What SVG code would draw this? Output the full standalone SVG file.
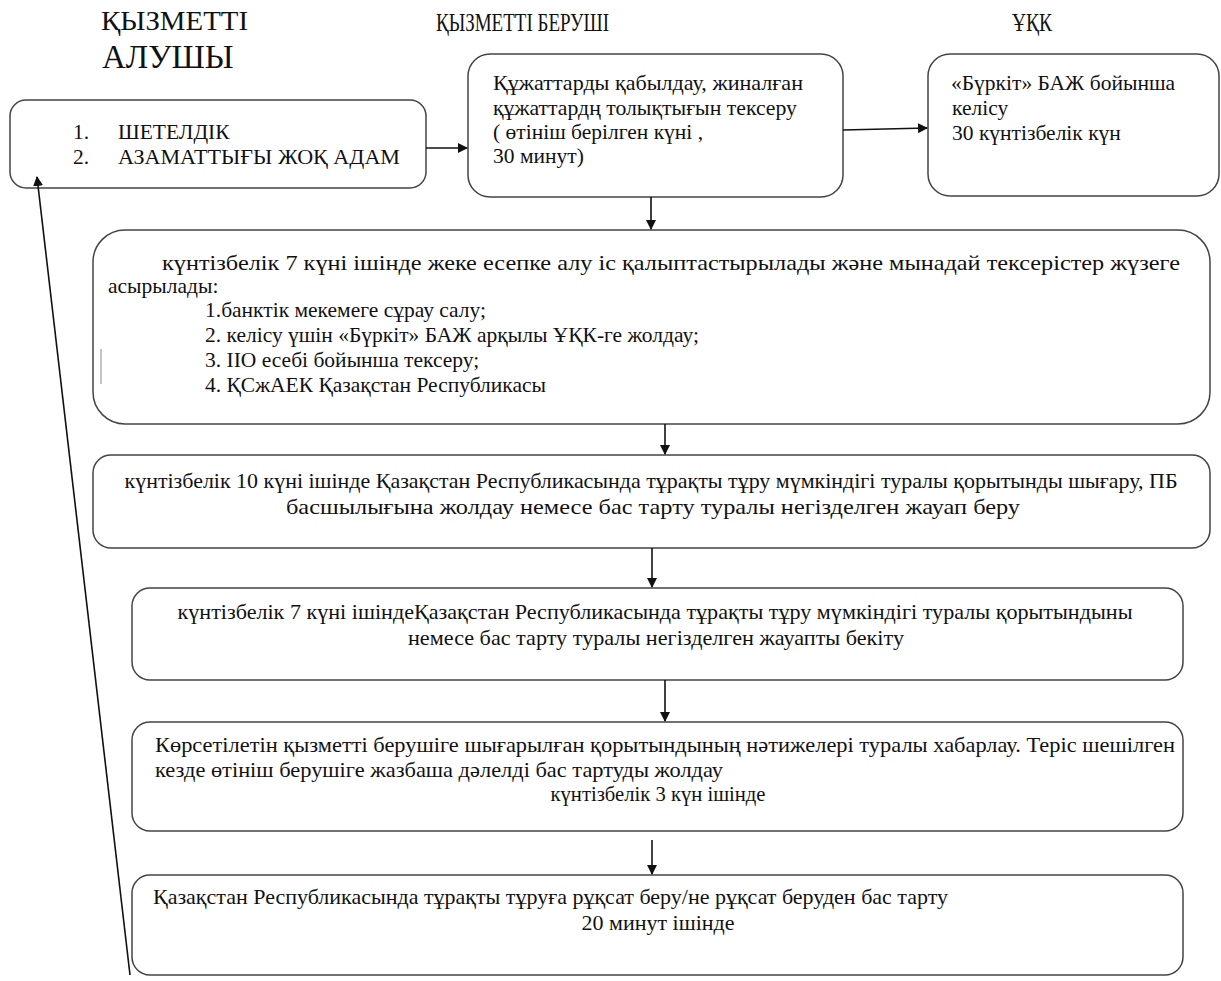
<svg xmlns="http://www.w3.org/2000/svg" width="1221" height="981" viewBox="0 0 1221 981">
<style>
.box{fill:#fff;stroke:#444;stroke-width:1.5}
.t{font-family:"Liberation Serif","Times New Roman",serif;font-size:21.5px;fill:#111}
.h{font-family:"Liberation Serif","Times New Roman",serif;fill:#111}
.c{text-anchor:middle}
.ln{stroke:#111;stroke-width:1.6;fill:none}
</style>
<defs>
<marker id="ah" viewBox="0 0 10 10" refX="9" refY="5" markerWidth="10" markerHeight="10" markerUnits="userSpaceOnUse" orient="auto">
<path d="M0,0 L10,5 L0,10 z" fill="#111"/>
</marker>
</defs>
<rect width="1221" height="981" fill="#fff"/>
<g id="headers">
<text class="h" x="101" y="30" font-size="28" textLength="147" lengthAdjust="spacingAndGlyphs">ҚЫЗМЕТТІ</text>
<text class="h" x="102" y="68" font-size="33">АЛУШЫ</text>
<text class="h" x="436" y="31" font-size="26" textLength="173" lengthAdjust="spacingAndGlyphs">ҚЫЗМЕТТІ БЕРУШІ</text>
<text class="h" x="1012" y="31" font-size="26" textLength="40" lengthAdjust="spacingAndGlyphs">ҰҚК</text>
</g>
<g id="n1">
<rect class="box" x="10" y="100" width="416" height="88" rx="16"/>
<text class="t" x="73" y="139">1.</text><text class="t" x="118" y="139">ШЕТЕЛДІК</text>
<text class="t" x="73" y="164">2.</text><text class="t" x="118" y="164" textLength="282" lengthAdjust="spacingAndGlyphs">АЗАМАТТЫҒЫ ЖОҚ АДАМ</text>
</g>
<g id="n2">
<rect class="box" x="468" y="54" width="375" height="143" rx="22"/>
<text class="t" x="493" y="90" textLength="310" lengthAdjust="spacingAndGlyphs">Құжаттарды қабылдау, жиналған</text>
<text class="t" x="493" y="115" textLength="304" lengthAdjust="spacingAndGlyphs">құжаттардң толықтығын тексеру</text>
<text class="t" x="493" y="139">( өтініш берілген күні ,</text>
<text class="t" x="493" y="163">30 минут)</text>
</g>
<g id="n3">
<rect class="box" x="928" y="54" width="291" height="142" rx="22"/>
<text class="t" x="951" y="90"> «Бүркіт» БАЖ бойынша</text>
<text class="t" x="952" y="115">келісу</text>
<text class="t" x="952" y="140">30 күнтізбелік күн</text>
</g>
<g id="n4">
<rect class="box" x="93" y="230" width="1117" height="194" rx="32"/>
<line x1="101" y1="349" x2="101" y2="384" stroke="#888" stroke-width="1"/>
<text class="t" x="162" y="270" textLength="1018" lengthAdjust="spacingAndGlyphs">күнтізбелік 7 күні ішінде жеке есепке алу іс қалыптастырылады және мынадай тексерістер жүзеге</text>
<text class="t" x="108" y="293">асырылады:</text>
<text class="t" x="205" y="317">1.банктік мекемеге сұрау салу;</text>
<text class="t" x="205" y="342">2. келісу үшін «Бүркіт» БАЖ арқылы ҰҚК-ге жолдау;</text>
<text class="t" x="205" y="367">3. ІІО есебі бойынша тексеру;</text>
<text class="t" x="205" y="392">4. ҚСжАЕК Қазақстан Республикасы</text>
</g>
<g id="n5">
<rect class="box" x="93" y="455" width="1117" height="93" rx="18"/>
<text class="t c" x="651" y="488" textLength="1053" lengthAdjust="spacingAndGlyphs">күнтізбелік 10 күні ішінде Қазақстан Республикасында тұрақты тұру мүмкіндігі туралы қорытынды шығару, ПБ</text>
<text class="t c" x="653" y="514" textLength="734" lengthAdjust="spacingAndGlyphs">басшылығына жолдау немесе бас тарту туралы негізделген жауап беру</text>
</g>
<g id="n6">
<rect class="box" x="132" y="588" width="1051" height="92" rx="18"/>
<text class="t c" x="655" y="619" textLength="955" lengthAdjust="spacingAndGlyphs">күнтізбелік 7 күні ішіндеҚазақстан Республикасында тұрақты тұру мүмкіндігі туралы қорытындыны</text>
<text class="t c" x="656" y="645" textLength="496" lengthAdjust="spacingAndGlyphs">немесе бас тарту туралы негізделген жауапты бекіту</text>
</g>
<g id="n7">
<rect class="box" x="132" y="722" width="1051" height="109" rx="18"/>
<text class="t" x="155" y="752" textLength="1020" lengthAdjust="spacingAndGlyphs">Көрсетілетін қызметті берушіге шығарылған қорытындының нәтижелері туралы хабарлау. Теріс шешілген</text>
<text class="t" x="155" y="777" textLength="568" lengthAdjust="spacingAndGlyphs">кезде өтініш берушіге жазбаша дәлелді бас тартуды жолдау</text>
<text class="t c" x="658" y="801" textLength="215" lengthAdjust="spacingAndGlyphs">күнтізбелік 3 күн ішінде</text>
</g>
<g id="n8">
<rect class="box" x="132" y="875" width="1051" height="100" rx="18"/>
<text class="t" x="153" y="904" textLength="795" lengthAdjust="spacingAndGlyphs">Қазақстан Республикасында тұрақты тұруға рұқсат беру/не рұқсат беруден бас тарту</text>
<text class="t c" x="658" y="930" textLength="153" lengthAdjust="spacingAndGlyphs">20 минут ішінде</text>
</g>
<g id="connectors">
<line class="ln" x1="426" y1="148" x2="467" y2="148" marker-end="url(#ah)"/>
<line class="ln" x1="843" y1="130" x2="927" y2="128" marker-end="url(#ah)"/>
<line class="ln" x1="651" y1="197" x2="651" y2="229" marker-end="url(#ah)"/>
<line class="ln" x1="665" y1="424" x2="665" y2="454" marker-end="url(#ah)"/>
<line class="ln" x1="652" y1="548" x2="652" y2="587" marker-end="url(#ah)"/>
<line class="ln" x1="665" y1="680" x2="665" y2="721" marker-end="url(#ah)"/>
<line class="ln" x1="652" y1="840" x2="652" y2="874" marker-end="url(#ah)"/>
<line class="ln" x1="130" y1="975" x2="37" y2="177" marker-end="url(#ah)"/>
</g>
</svg>
